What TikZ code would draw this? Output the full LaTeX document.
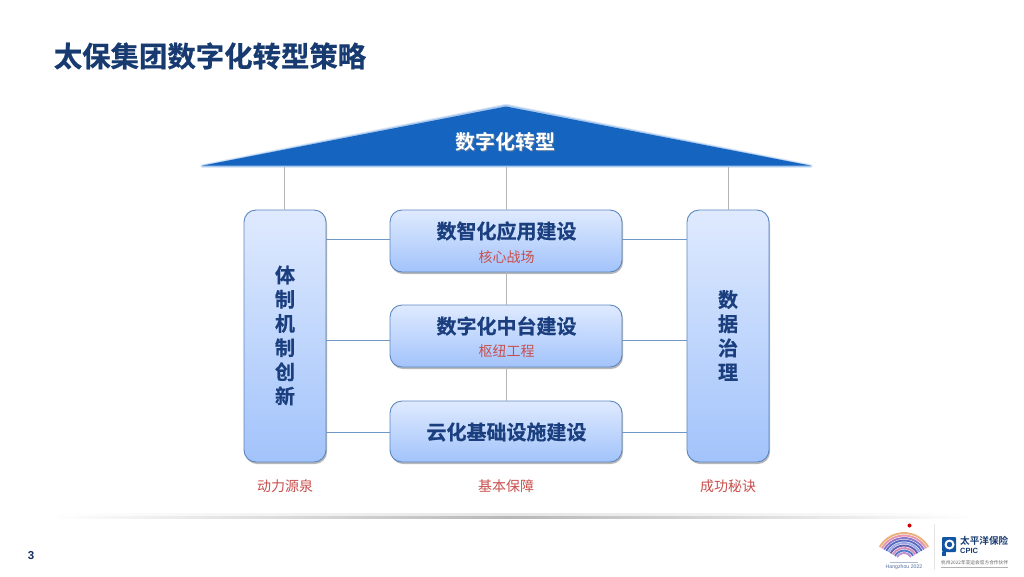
\documentclass[tikz,border=0pt]{standalone}
\usepackage{fontspec}
\setmainfont{Liberation Sans}
\newfontfamily\cjkbold{Noto Sans CJK SC Bold}
\newfontfamily\cjkheavy[FakeBold=0.6]{Noto Sans CJK SC Bold}
\newfontfamily\cjkreg{Noto Sans CJK SC}
\usetikzlibrary{shadows,calc}
\definecolor{navy}{HTML}{1B3F7E}
\definecolor{titleblue}{HTML}{173A70}
\definecolor{roofblue}{HTML}{1565C0}
\definecolor{roofglow}{HTML}{A9C8EE}
\definecolor{roofglowb}{HTML}{DCE9F9}
\definecolor{redlabel}{HTML}{C8504E}
\definecolor{boxtop}{HTML}{DFEAFE}
\definecolor{boxbot}{HTML}{A2C3FB}
\definecolor{boxline}{HTML}{5C87BE}
\definecolor{linkblue}{HTML}{6F97C8}
\definecolor{linkgrey}{HTML}{B4B4B4}
\definecolor{fana}{HTML}{E896B0}
\definecolor{fanb}{HTML}{E9B27A}
\definecolor{fanc}{HTML}{8A78C8}
\definecolor{fand}{HTML}{5A68C0}
\definecolor{fane}{HTML}{9AA8E6}
\definecolor{fanf}{HTML}{5E5FB0}
\definecolor{fang}{HTML}{C090D0}
\definecolor{fanh}{HTML}{4F78C8}
\definecolor{fani}{HTML}{D88AB8}
\tikzset{
  panel/.style={draw=boxline,line width=0.9pt,rounded corners=12pt,inner sep=0pt,
    top color=boxtop,bottom color=boxbot,shading angle=0,
    drop shadow={shadow xshift=1pt,shadow yshift=-2pt,opacity=0.28,fill=black}},
  wide/.style={panel,minimum width=232pt,minimum height=62pt},
  tall/.style={panel,minimum width=82pt,minimum height=252pt},
  headtext/.style={font=\cjkheavy\fontsize{20}{20}\selectfont,text=navy,inner sep=0pt},
  redtext/.style={font=\cjkreg\fontsize{14}{14}\selectfont,text=redlabel,inner sep=0pt},
  vtext/.style={font=\cjkheavy\fontsize{20}{24.2}\selectfont,text=navy,align=center,inner sep=0pt},
  greylink/.style={draw=linkgrey,line width=1pt},
  bluelink/.style={draw=linkblue,line width=1pt},
  fanarc/.style={line width=1.9pt},
}
\begin{document}
\begin{tikzpicture}[x=1pt,y=-1pt]
\useasboundingbox (0,0) rectangle (1024,576);
\fill[white] (0,0) rectangle (1024,576);
% title
\node[anchor=center,inner sep=0pt,text=titleblue,font=\cjkheavy\fontsize{28.4}{28.4}\selectfont] (title) at (210,56) {太保集团数字化转型策略};
% roof
\fill[roofglowb,draw=roofglowb,line width=3.5pt,line join=round] (202,166) -- (506,105.5) -- (811,166) -- cycle;
\fill[roofglow,draw=roofglow,line width=1.5pt,line join=round] (202,166) -- (506,105.5) -- (811,166) -- cycle;
\fill[roofblue] (203,165.5) -- (506,106.5) -- (810,165.5) -- cycle;
\coordinate (roofL) at (284,167);
\coordinate (roofM) at (506,167);
\coordinate (roofR) at (728,167);
% boxes
\node[tall] (left) at (285,336) {};
\node[tall] (right) at (728,336) {};
\node[wide] (a) at (506,241) {};
\node[wide] (b) at (506,336) {};
\node[wide,minimum height=61pt] (c) at (506,431.5) {};
% connectors
\draw[greylink] (roofL) -- (roofL |- left.north);
\draw[greylink] (roofM) -- (a.north);
\draw[greylink] (roofR) -- (right.north);
\draw[greylink] (a.south) -- (b.north);
\draw[greylink] (b.south) -- (c.north);
\draw[bluelink] ($(left.east |- a.west)+(0,-2)$) -- ($(a.west)+(0,-2)$);
\draw[bluelink] ($(a.east)+(0,-2)$) -- ($(right.west |- a.east)+(0,-2)$);
\draw[bluelink] ($(left.east |- b.west)+(0,4)$) -- ($(b.west)+(0,4)$);
\draw[bluelink] ($(b.east)+(0,4)$) -- ($(right.west |- b.east)+(0,4)$);
\draw[bluelink] ($(left.east |- c.west)+(0,0.5)$) -- ($(c.west)+(0,0.5)$);
\draw[bluelink] ($(c.east)+(0,0.5)$) -- ($(right.west |- c.east)+(0,0.5)$);
% texts
\node[inner sep=0pt,text=black!45,opacity=0.6,font=\cjkbold\fontsize{20}{20}\selectfont] at (506.7,142.7) {数字化转型};
\node[inner sep=0pt,text=white,font=\cjkbold\fontsize{20}{20}\selectfont] (roof) at (505.5,141.5) {数字化转型};
\node[headtext] (at) at (506.5,231) {数智化应用建设};
\node[redtext] (as) at (506.5,257) {核心战场};
\node[headtext] (bt) at (506.5,326) {数字化中台建设};
\node[redtext] (bs) at (506.5,351) {枢纽工程};
\node[headtext] (ct) at (506.5,432) {云化基础设施建设};
\node[vtext] (lt) at (285,335.5) {体\\制\\机\\制\\创\\新};
\node[vtext] (rt) at (728,335.5) {数\\据\\治\\理};
\node[redtext] (l1) at (285,486) {动力源泉};
\node[redtext] (l2) at (506,486) {基本保障};
\node[redtext] (l3) at (728,486) {成功秘诀};
% footer rule
\shade[left color=white,right color=black!28] (50,515.5) rectangle (510,518.5);
\shade[left color=black!28,right color=white] (510,515.5) rectangle (975,518.5);
\shade[left color=white,right color=black!10] (50,513) rectangle (510,515.5);
\shade[left color=black!10,right color=white] (510,513) rectangle (975,515.5);
% page number
\node[inner sep=0pt,text=titleblue!85!black,font=\bfseries\fontsize{11.5}{11.5}\selectfont] (page) at (31,556) {3};
% logo: games emblem
\fill[red!80!black] (909.5,525.5) circle (2pt);
\foreach \r/\c in {28/fanb,25.5/fana,23/fanc,20.5/fand,18/fane,15.5/fanf,13/fani,10.5/fanh,8/fang}{
  \draw[draw=\c,fanarc] (904,561) ++(-150:\r) arc (-150:-30:\r);
}
\draw[navy!35,line width=1pt] (890,562) -- (918,562);
\node[inner sep=0pt,text=navy!75,font=\fontsize{5.2}{5.2}\selectfont] (hz1) at (904,567) {Hangzhou 2022};
\draw[black!10,line width=0.5pt] (934,524) -- (934,570);
% logo: CPIC
\fill[roofblue!85!black,rounded corners=1pt] (942,537) rectangle (956,552);
\fill[roofblue!85!black] (942,552) rectangle (945.5,556);
\fill[white] (949.5,544.5) circle (5pt);
\fill[roofblue!85!black] (949.5,544.5) circle (2.7pt);
\node[inner sep=0pt,anchor=west,text=titleblue,font=\cjkbold\fontsize{9.6}{9.6}\selectfont] (cp1) at (960,541) {太平洋保险};
\node[inner sep=0pt,anchor=west,text=titleblue,font=\bfseries\fontsize{7.5}{7.5}\selectfont] (cp2) at (960,551) {CPIC};
\node[inner sep=0pt,anchor=west,text=black!60,font=\cjkreg\fontsize{4.7}{4.7}\selectfont] (cp3) at (941,563) {杭州2022年亚运会官方合作伙伴};
\draw[black!30,line width=0.8pt] (941,567.5) -- (1008,567.5);
\end{tikzpicture}
\end{document}
